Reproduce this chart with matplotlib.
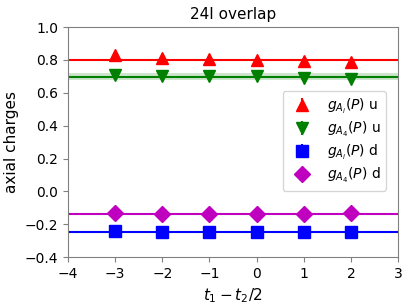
import matplotlib
matplotlib.use("Agg")
import matplotlib.pyplot as plt
import numpy as np

t = [-3, -2, -1, 0, 1, 2]

gAi_u = [0.830, 0.810, 0.805, 0.800, 0.795, 0.790]
gA4_u = [0.710, 0.705, 0.705, 0.700, 0.690, 0.685]
gAi_d = [-0.240, -0.245, -0.250, -0.250, -0.250, -0.245]
gA4_d = [-0.130, -0.135, -0.140, -0.140, -0.135, -0.130]
err = [0.008, 0.007, 0.007, 0.007, 0.007, 0.008]

fit_vals = [0.800, 0.698, -0.250, -0.140]
fit_errs = [0.004, 0.022, 0.004, 0.004]

colors = ["r", "g", "b", "m"]
markers = ["^", "v", "s", "D"]
labels = [r"$g_{A_i}(P)$ u", r"$g_{A_4}(P)$ u", r"$g_{A_i}(P)$ d", r"$g_{A_4}(P)$ d"]
series = [gAi_u, gA4_u, gAi_d, gA4_d]

fig, ax = plt.subplots(figsize=(4.07, 3.05), dpi=100)
xs = np.array([-4, 3])
for vals, c, m, lab, fv, fe in zip(series, colors, markers, labels, fit_vals, fit_errs):
    ax.errorbar(t, vals, yerr=err, fmt=m, color=c, markersize=8, capsize=0, label=lab)
    ax.plot(xs, [fv, fv], color=c, linewidth=1.5)
    ax.fill_between(xs, fv - fe, fv + fe, color=c, alpha=0.2, linewidth=0)

ax.set_xlim(-4, 3)
ax.set_ylim(-0.4, 1.0)
ax.set_xticks(range(-4, 4))
ax.set_title("24I overlap", fontsize=11)
ax.set_xlabel(r"$t_1-t_2/2$", fontsize=11)
ax.set_ylabel("axial charges", fontsize=11)
for s in ax.spines.values():
    s.set_color("gray")
ax.tick_params(color="gray")
ax.legend(loc="center right", bbox_to_anchor=(0.985, 0.505), fontsize=10, labelspacing=0.3)
fig.subplots_adjust(left=0.167, right=0.978, top=0.911, bottom=0.157)
fig.savefig("out.png")
